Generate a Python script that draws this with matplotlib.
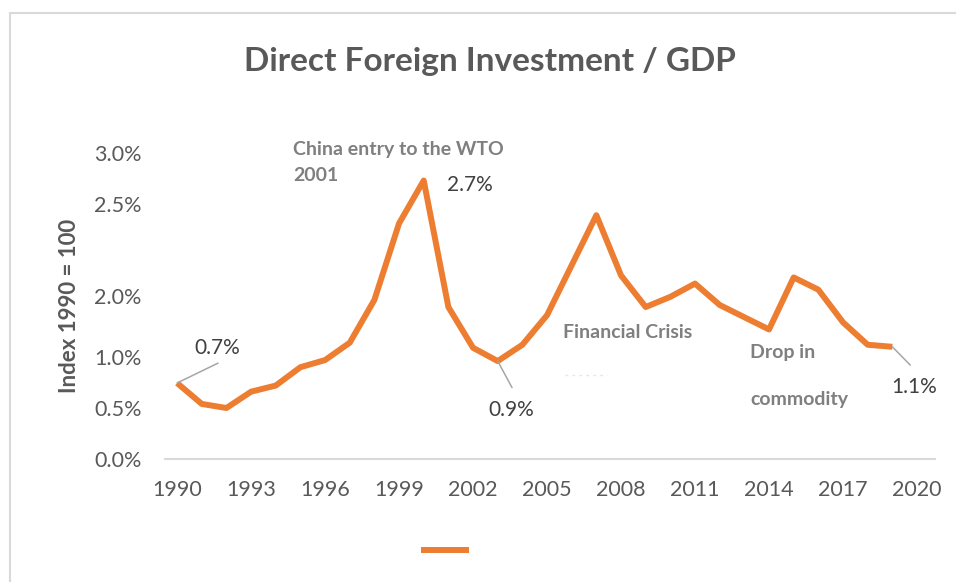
import matplotlib
matplotlib.use("Agg")
import matplotlib.pyplot as plt
from matplotlib.patches import Rectangle

# values (share of GDP, %)
years = list(range(1990, 2020))
fdi_gdp = [0.745, 0.54, 0.50, 0.66, 0.72, 0.90, 0.97, 1.14, 1.56, 2.31,
           2.73, 1.49, 1.09, 0.96, 1.12, 1.41, 1.90, 2.39, 1.80, 1.49,
           1.59, 1.72, 1.51, 1.39, 1.27, 1.78, 1.66, 1.34, 1.12, 1.10]

x_ticks = list(range(1990, 2021, 3))
y_tick_pos = [0.0, 0.5, 1.0, 1.6, 2.5, 3.0]
y_tick_labels = ["0.0%", "0.5%", "1.0%", "2.0%", "2.5%", "3.0%"]

plt.rcParams['font.family'] = ['Lato', 'DejaVu Sans']

ORANGE = '#ED7D31'
DARK = '#595959'
GREY = '#7f7f7f'

W, H = 956, 582
fig = plt.figure(figsize=(W / 100, H / 100), dpi=100)

# outer chart frame
fig.patches.append(Rectangle((10 / W, -0.1), 1.2, 1.1 - 13 / H,
                             transform=fig.transFigure, fill=False,
                             edgecolor='#d9d9d9', linewidth=1.5))

ax = fig.add_axes([165 / W, (H - 459) / H, 770 / W, 306 / H])

line, = ax.plot(years, fdi_gdp, color=ORANGE, linewidth=4.3,
                solid_joinstyle='round', solid_capstyle='butt')

ax.set_xlim(1989.51, 2020.73)
ax.set_ylim(0, 3.0)
ax.set_xticks(x_ticks)
ax.set_yticks(y_tick_pos)
ax.set_yticklabels(y_tick_labels)
ax.tick_params(axis='both', length=0, labelsize=15.5, labelcolor=DARK)
ax.tick_params(axis='x', pad=15)
ax.tick_params(axis='y', pad=17)

for s in ['top', 'right', 'left']:
    ax.spines[s].set_visible(False)
ax.spines['bottom'].set_color('#d9d9d9')
ax.spines['bottom'].set_linewidth(1.5)

ax.set_ylabel('Index 1990 = 100', fontsize=16, fontweight='bold',
              color=DARK, labelpad=10)

fig.text(490 / W, 1 - 62 / H, 'Direct Foreign Investment / GDP',
         ha='center', va='center', fontsize=24, fontweight='bold', color=DARK)

# data labels with leader lines
lead = dict(arrowstyle='-', color='#a6a6a6', linewidth=1.1, shrinkA=0, shrinkB=0)
lab = dict(ha='center', va='center', fontsize=15, color='#404040')
ax.annotate('', xy=(1990, fdi_gdp[0]), xytext=(1991.66, 0.94), arrowprops=lead)
ax.text(1991.62, 1.09, '0.7%', **lab)
ax.text(2001.88, 2.69, '2.7%', **lab)
ax.annotate('', xy=(2003, fdi_gdp[13]), xytext=(2003.58, 0.70), arrowprops=lead)
ax.text(2003.54, 0.48, '0.9%', **lab)
ax.annotate('', xy=(2019, fdi_gdp[-1]), xytext=(2019.73, 0.92), arrowprops=lead)
ax.text(2019.9, 0.71, '1.1%', **lab)

# event notes
note = dict(fontsize=14, fontweight='bold', color=GREY, va='center', ha='left')
ax.text(1994.70, 3.03, 'China entry to the WTO', clip_on=False, **note)
ax.text(1994.70, 2.78, '2001', **note)
ax.text(2005.65, 1.24, 'Financial Crisis', **note)
ax.plot([2005.73, 2007.43], [0.82, 0.82], color='#e6e6e6', linewidth=1,
        linestyle=(0, (2, 3)))
ax.text(2013.23, 1.04, 'Drop in', **note)
ax.text(2013.23, 0.58, 'commodity', **note)

# legend with no label text
fig.legend([line], [''], loc='center', bbox_to_anchor=(445 / W, 1 - 551 / H),
           bbox_transform=fig.transFigure, frameon=False, handlelength=2.9,
           handletextpad=0, fontsize=12)

fig.savefig('out.png', dpi=100)
